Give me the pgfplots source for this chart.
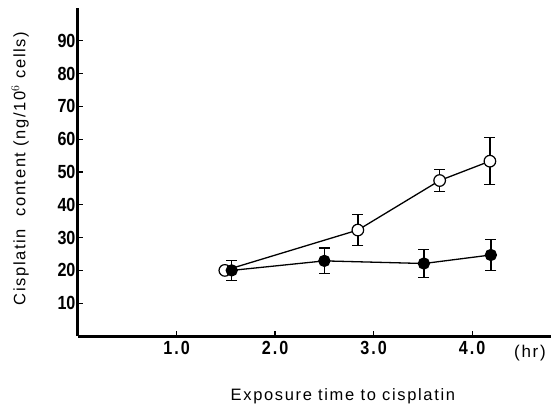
\documentclass[border=0pt]{standalone}
\usepackage{pgfplots}
\pgfplotsset{compat=1.18}
\usepackage{fontspec}
\setmainfont{Liberation Sans}
\newfontfamily\labelfont[LetterSpace=10]{Liberation Sans}
\newfontfamily\tickfont[FakeStretch=0.85]{Liberation Sans}
\begin{document}
\begin{tikzpicture}
\begin{axis}[
  at={(0,0)}, anchor=south west,
  scale only axis, width=473bp, height=328bp,
  xmin=0, xmax=4.8, ymin=0, ymax=100,
  axis x line*=bottom, axis y line*=left,
  axis line style={line width=3bp, black},
  xtick={1,2,3,4},
  xticklabels={1\hspace{2bp}.\hspace{2bp}0,2\hspace{2bp}.\hspace{2bp}0,3\hspace{2bp}.\hspace{2bp}0,4\hspace{2bp}.\hspace{2bp}0},
  ytick={10,20,...,90},
  tick align=inside, major tick length=5bp,
  tick style={line width=1.3bp, black},
  x tick label style={font=\tickfont\bfseries\fontsize{19bp}{21bp}\selectfont, yshift=-2bp},
  y tick label style={font=\tickfont\bfseries\fontsize{19bp}{21bp}\selectfont, xshift=1bp},
  /pgf/number format/assume math mode=true,
  xlabel={Exposure time to cisplatin},
  ylabel={Cisplatin\ \ content (ng/10$^{6}$ cells)},
  xlabel style={font=\labelfont\fontsize{16.5bp}{18bp}\selectfont, at={(axis description cs:0.56,-0.183)}, anchor=center},
  ylabel style={font=\labelfont\fontsize{16.5bp}{18bp}\selectfont, at={(axis description cs:-0.1226,0.51)}, anchor=center, rotate=0},
  clip=false,
  error bars/error bar style={line width=1.3bp, black},
  error bars/error mark options={rotate=90, mark size=5.5bp, line width=1.3bp, black},
]
\addplot[black, line width=1.3bp, mark=*, mark size=5.8bp, mark options={fill=white, line width=1.2bp},
  error bars/.cd, y dir=both, y explicit]
  coordinates {
    (1.49,20) +- (0,0)
    (2.84,32.3) +- (0,4.8)
    (3.67,47.4) +- (0,3.4)
    (4.18,53.3) +- (0,7.2)
  };
\addplot[black, line width=1.3bp, mark=*, mark size=5.5bp, mark options={fill=black},
  error bars/.cd, y dir=both, y explicit]
  coordinates {
    (1.56,20) +- (0,3.0)
    (2.50,22.9) +- (0,3.9)
    (3.51,22.1) +- (0,4.2)
    (4.19,24.7) +- (0,4.7)
  };
\node[font=\labelfont\fontsize{17bp}{19bp}\selectfont, anchor=center] at (axis description cs:0.9556,-0.052) {(hr)};
\end{axis}
\pgfresetboundingbox
\path (-78bp,-74bp) rectangle (473bp,336bp);
\end{tikzpicture}
\end{document}
